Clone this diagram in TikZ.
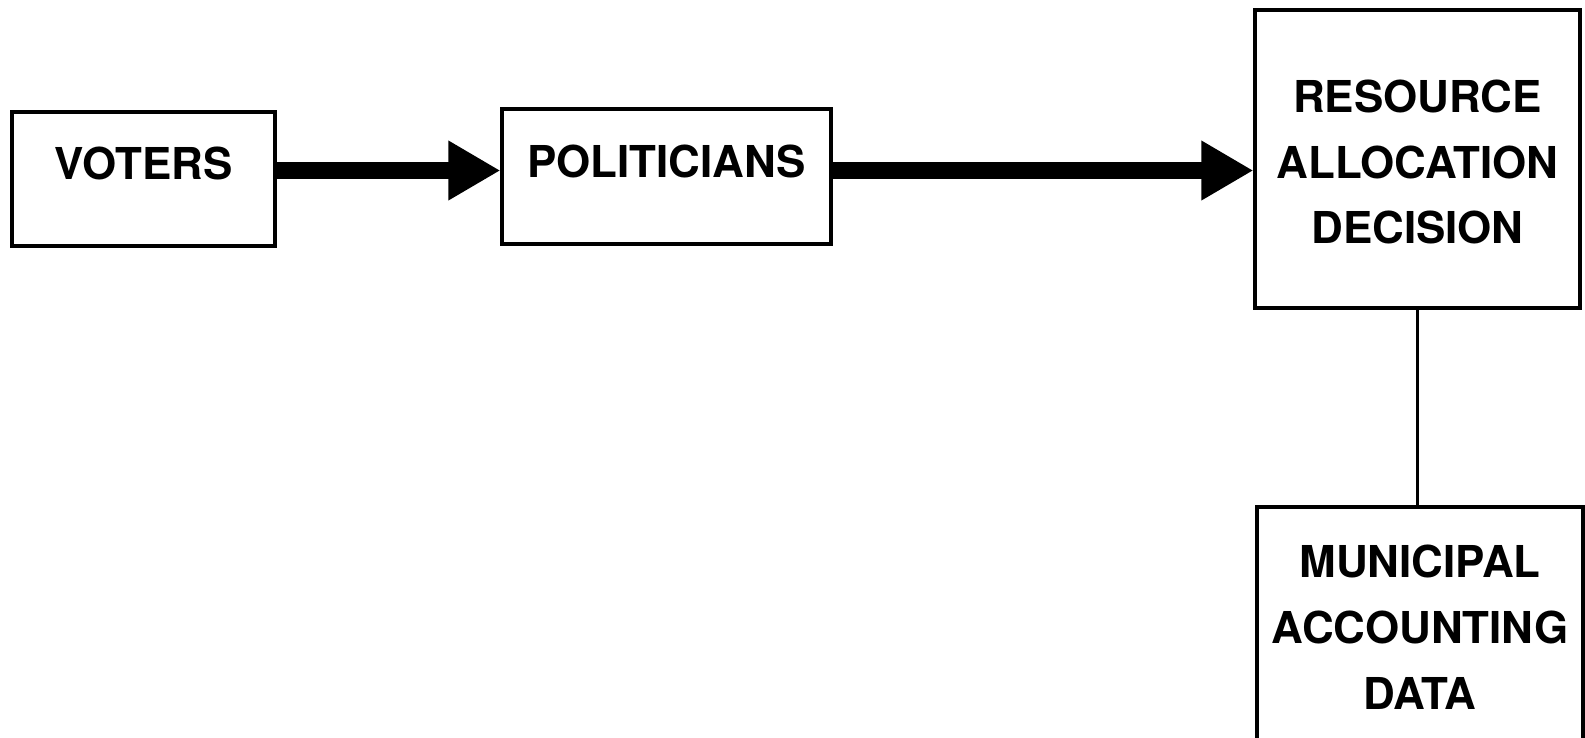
\documentclass[tikz,border=0pt]{standalone}
\usepackage{fontspec}
\setmainfont{TeX Gyre Heros}
\usetikzlibrary{positioning,arrows.meta}

\begin{document}
\begin{tikzpicture}[
    box/.style={rectangle, draw=black, line width=1.8pt, inner sep=0pt},
    txt/.style={font=\fontsize{25}{37.5}\selectfont\bfseries, align=center, inner sep=0pt},
    flowarrow/.style={line width=10pt, -{Triangle[length=1.04cm, width=1.12cm]}},
    link/.style={line width=1.2pt}
  ]
  \clip (0,0) rectangle (31.7,-14.74);

  % Boxes
  \node[box, minimum width=5.26cm, minimum height=2.68cm] (voters) at (2.87,-3.58) {};
  \node[box, minimum width=6.58cm, minimum height=2.70cm] (politicians) at (13.33,-3.53) {};
  \node[box, minimum width=6.50cm, minimum height=5.96cm] (resource) at (28.35,-3.18) {};
  \node[box, minimum width=6.52cm, minimum height=6.00cm] (municipal) at (28.40,-13.14) {};

  % Texts
  \node[txt] (voterstxt) at ([yshift=0.32cm]voters.center) {VOTERS};
  \node[txt] (politicianstxt) at ([yshift=0.30cm]politicians.center) {POLITICIANS};
  \node[txt] (resourcetxt) at ([yshift=-0.06cm]resource.center) {RESOURCE\\ALLOCATION\\DECISION};
  \node[txt] (municipaltxt) at ([yshift=0.60cm]municipal.center) {MUNICIPAL\\ACCOUNTING\\DATA};

  % Arrows
  \coordinate (flow) at (0,-3.41);
  \draw[flowarrow] (voters.east |- flow) -- (politicians.west |- flow);
  \draw[flowarrow] (politicians.east |- flow) -- (resource.west |- flow);
  \draw[link] (resource.south) -- (resource.south |- municipal.north);
\end{tikzpicture}
\end{document}
